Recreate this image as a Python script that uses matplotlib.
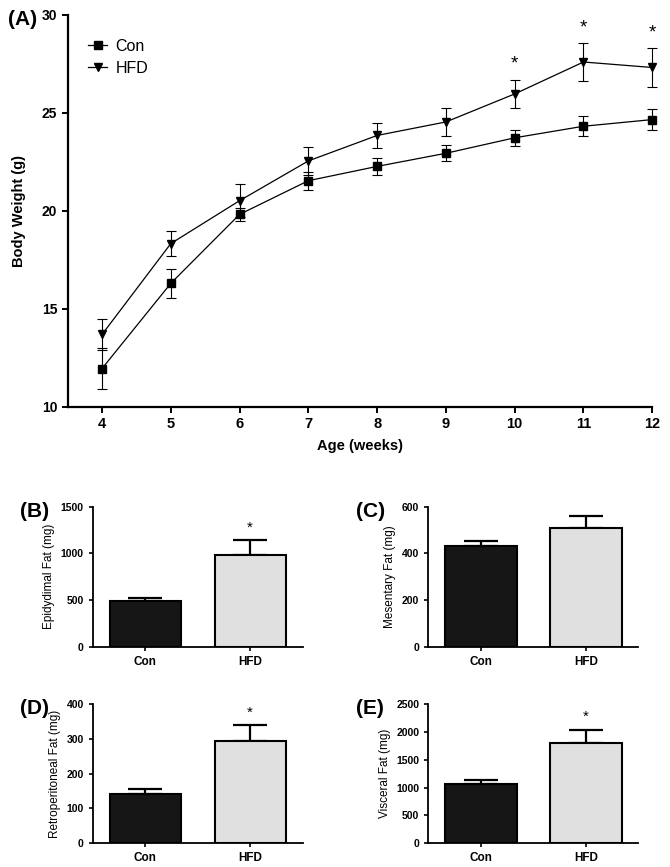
import numpy as np
import matplotlib.pyplot as plt

plt.rcParams['font.family'] = ['Liberation Sans', 'DejaVu Sans']

# body weight over age
weeks = [4, 5, 6, 7, 8, 9, 10, 11, 12]
con_bw = [11.95, 16.3, 19.82, 21.54, 22.27, 22.94, 23.73, 24.32, 24.66]
con_bw_err = [1.05, 0.75, 0.35, 0.45, 0.45, 0.4, 0.42, 0.5, 0.55]
hfd_bw = [13.69, 18.33, 20.52, 22.55, 23.85, 24.54, 25.97, 27.6, 27.32]
hfd_bw_err = [0.8, 0.65, 0.85, 0.7, 0.62, 0.72, 0.73, 0.98, 0.98]
bw_sig = [10, 11, 12]

# fat pad weights
groups = ['Con', 'HFD']
epi = [489, 985]
epi_err = [36, 158]
mes = [433, 507]
mes_err = [19, 53]
retro = [141, 294]
retro_err = [15, 46]
visc = [1070, 1794]
visc_err = [66, 245]

fig = plt.figure(figsize=(6.7, 8.67), dpi=100)

# ---- panel A
ax = fig.add_axes([0.1010, 0.5309, 0.8725, 0.4518])
for vals, errs, mk, lab in [(con_bw, con_bw_err, 's', 'Con'),
                            (hfd_bw, hfd_bw_err, 'v', 'HFD')]:
    eb = ax.errorbar(weeks, vals, yerr=errs, fmt='none', ecolor='black',
                     elinewidth=0.8, capsize=3.5, capthick=0.8)
    for art in eb.lines[1] + eb.lines[2]:
        art.set_clip_on(False)
    ax.plot(weeks, vals, color='black', marker=mk, ms=5.5, lw=0.9, label=lab,
            clip_on=False)
for w in bw_sig:
    i = weeks.index(w)
    ax.annotate('*', (w, hfd_bw[i] + hfd_bw_err[i]), xytext=(0, 11),
                textcoords='offset points', ha='center', va='center', fontsize=13.5)
ax.set_xlim(3.5, 12)
ax.set_ylim(10, 30)
ax.set_xticks(weeks)
ax.set_yticks([10, 15, 20, 25, 30])
ax.spines['top'].set_visible(False)
ax.spines['right'].set_visible(False)
ax.spines['left'].set_linewidth(1.6)
ax.spines['bottom'].set_linewidth(1.6)
ax.spines['bottom'].set_capstyle('projecting')
ax.tick_params(width=1.4, length=4, labelsize=10)
ax.tick_params(axis='x', labelsize=10.5)
for t in ax.get_xticklabels() + ax.get_yticklabels():
    t.set_fontweight('bold')
ax.set_xlabel('Age (weeks)', fontsize=10.5, fontweight='bold', labelpad=6)
ax.set_ylabel('Body Weight (g)', fontsize=10.5, fontweight='bold', labelpad=11)
ax.legend(loc='upper left', bbox_to_anchor=(0.035, 0.94), frameon=False,
          fontsize=11.5, handlelength=1.2, handletextpad=0.5, labelspacing=0.45,
          borderpad=0, borderaxespad=0)
fig.text(0.012, 0.977, '(A)', fontsize=15, fontweight='bold', va='center')


def bar_panel(rect, vals, errs, ymax, step, ylabel, letter, star):
    a = fig.add_axes(rect)
    x = np.arange(len(groups))
    a.bar(x, vals, width=0.68, color=['#161616', '#e0e0e0'],
          edgecolor='black', linewidth=1.5, zorder=2)
    a.errorbar(x, vals, yerr=[[0, 0], errs], fmt='none', ecolor='black',
               elinewidth=1.6, capsize=12.5, capthick=1.6, zorder=1)
    if star:
        a.annotate('*', (1, vals[1] + errs[1]), xytext=(0, 9),
                   textcoords='offset points', ha='center', va='center', fontsize=11)
    a.set_xlim(-0.5, 1.5)
    a.set_ylim(0, ymax)
    a.set_yticks(np.arange(0, ymax + 1, step))
    a.set_xticks(x)
    a.set_xticklabels(groups)
    a.spines['top'].set_visible(False)
    a.spines['right'].set_visible(False)
    a.spines['left'].set_linewidth(1.3)
    a.spines['bottom'].set_linewidth(1.3)
    a.tick_params(width=1.2, length=3, labelsize=7.5)
    for t in a.get_xticklabels() + a.get_yticklabels():
        t.set_fontweight('bold')
    a.tick_params(axis='x', labelsize=8.5)
    a.set_ylabel(ylabel, fontsize=8.5)
    fig.text(rect[0] - 0.108, rect[1] + rect[3] - 0.005, letter,
             fontsize=15, fontweight='bold', va='center')
    return a


bar_panel([0.1384, 0.2541, 0.3134, 0.1615], epi, epi_err, 1500, 500,
          'Epidydimal Fat (mg)', '(B)', True)
bar_panel([0.6393, 0.2541, 0.3134, 0.1615], mes, mes_err, 600, 200,
          'Mesentary Fat (mg)', '(C)', False)
bar_panel([0.1384, 0.0273, 0.3134, 0.1607], retro, retro_err, 400, 100,
          'Retroperitoneal Fat (mg)', '(D)', True)
bar_panel([0.6393, 0.0273, 0.3134, 0.1607], visc, visc_err, 2500, 500,
          'Visceral Fat (mg)', '(E)', True)

fig.savefig('out.png', dpi=100)
